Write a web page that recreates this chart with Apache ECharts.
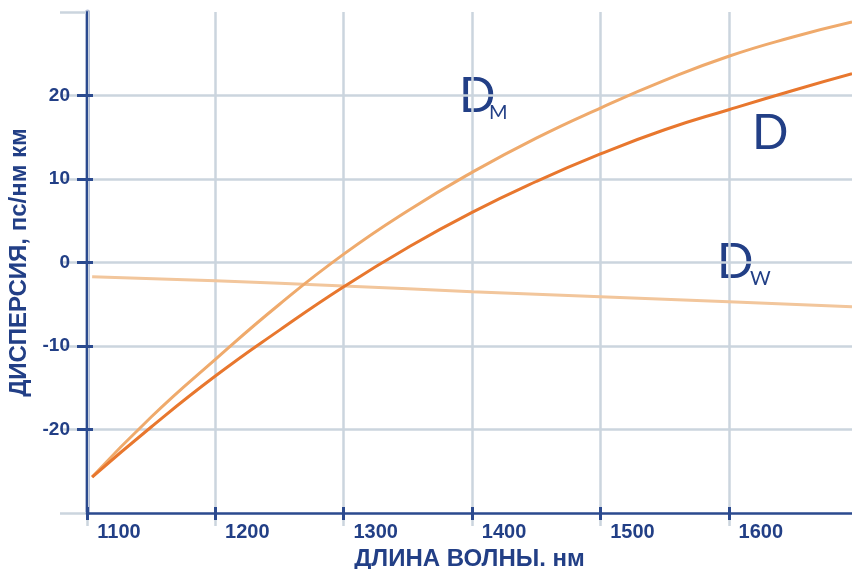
<!DOCTYPE html>
<html><head><meta charset="utf-8">
<script src="https://cdn.jsdelivr.net/npm/echarts@6/dist/echarts.min.js"></script>
<style>html,body{margin:0;padding:0;background:#fff}#c{width:852px;height:569px}</style>
</head><body><div id="c"></div>
<script>
// wavelength, nm
const wavelength = [1104, 1150, 1200, 1250, 1300, 1350, 1400, 1450, 1500, 1550, 1600, 1650, 1696];
// total dispersion D
const dTotal = [-25.7, -19.7, -13.6, -8.1, -2.9, 1.8, 6.0, 9.7, 13.0, 15.9, 18.3, 20.6, 22.6];
// material dispersion DM
const dMaterial = [-25.7, -18.5, -11.6, -5.0, 1.0, 6.2, 10.8, 14.9, 18.5, 21.8, 24.7, 27.0, 28.8];
// waveguide dispersion DW
const dwWavelength = [1104, 1200, 1300, 1400, 1500, 1600, 1696];
const dWaveguide = [-1.7, -2.2, -2.8, -3.5, -4.1, -4.7, -5.3];
const xTicks = [1100, 1200, 1300, 1400, 1500, 1600];
const yTicks = [-20, -10, 0, 10, 20];
const yGrid = [-30, -20, -10, 0, 10, 20, 30];

const NAVY = '#223f86';
const GRID = '#cbd5de';
const pairs = (xs, ys) => xs.map((x, i) => [x, ys[i]]);

const chart = echarts.init(document.getElementById('c'), null, {renderer: 'canvas'});
const xBase = {type: 'value', min: 1100, max: 1696, interval: 100, position: 'bottom', gridIndex: 0};
const yBase = {type: 'value', min: -30, max: 30, interval: 10, position: 'left', gridIndex: 0};
const labelFont = {fontFamily: 'Liberation Sans, Arial, sans-serif', fontWeight: 'bold', color: NAVY};

chart.setOption({
  animation: false,
  backgroundColor: '#ffffff',
  grid: [{left: 87, right: 0, top: 12, bottom: 56, containLabel: false, outerBoundsMode: 'none'}],
  xAxis: [
    Object.assign({}, xBase, {
      z: 1,
      axisLine: {show: true, onZero: false, lineStyle: {color: '#2b4a8f', width: 2.5}},
      axisTick: {show: true, inside: false, length: 7, customValues: xTicks, lineStyle: {color: '#2b4a8f', width: 3}},
      axisLabel: Object.assign({show: true, fontSize: 20, margin: 9, padding: [0, 0, 0, 64], customValues: xTicks,
        formatter: v => String(v)}, labelFont),
      splitLine: {show: true, lineStyle: {color: GRID, width: 2.5}},
      name: 'ДЛИНА ВОЛНЫ. нм', nameLocation: 'middle', nameGap: 32,
      nameTextStyle: Object.assign({fontSize: 24}, labelFont)
    }),
    Object.assign({}, xBase, {
      z: 0,
      axisLine: {show: false, onZero: false},
      axisTick: {show: true, inside: false, length: 13, customValues: xTicks, lineStyle: {color: GRID, width: 2.5}},
      axisLabel: {show: false}, splitLine: {show: false}
    }),
    Object.assign({}, xBase, {
      z: 1,
      axisLine: {show: false, onZero: false},
      axisTick: {show: true, inside: true, length: 6, customValues: xTicks, lineStyle: {color: '#2b4a8f', width: 3}},
      axisLabel: {show: false}, splitLine: {show: false}
    })
  ],
  yAxis: [
    Object.assign({}, yBase, {
      z: 1,
      axisLine: {show: true, onZero: false, lineStyle: {color: '#2b4a8f', width: 2}},
      axisTick: {show: true, inside: false, length: 10, customValues: yTicks, lineStyle: {color: '#2b4a8f', width: 3}},
      axisLabel: Object.assign({show: true, fontSize: 19, margin: 17, padding: [0, 0, 10, 0], customValues: yTicks}, labelFont),
      splitLine: {show: true, lineStyle: {color: GRID, width: 2.5}},
      name: 'ДИСПЕРСИЯ, пс/нм км', nameLocation: 'middle', nameGap: 50,
      nameTextStyle: Object.assign({fontSize: 24}, labelFont)
    }),
    Object.assign({}, yBase, {
      z: 0,
      axisLine: {show: true, onZero: false, lineStyle: {color: '#b3bed6', width: 5}},
      axisTick: {show: true, inside: false, length: 27, customValues: yGrid, lineStyle: {color: GRID, width: 2.5}},
      axisLabel: {show: false}, splitLine: {show: false}
    }),
    Object.assign({}, yBase, {
      z: 1,
      axisLine: {show: false, onZero: false},
      axisTick: {show: true, inside: true, length: 6, customValues: yTicks, lineStyle: {color: '#2b4a8f', width: 3}},
      axisLabel: {show: false}, splitLine: {show: false}
    })
  ],
  series: [
    {name: 'DW', type: 'line', data: pairs(dwWavelength, dWaveguide), smooth: true, showSymbol: false, z: 3,
     lineStyle: {color: '#f2c69c', width: 3}},
    {name: 'DM', type: 'line', data: pairs(wavelength, dMaterial), smooth: true, showSymbol: false, z: 4,
     lineStyle: {color: '#efaa6c', width: 3}},
    {name: 'D', type: 'line', data: pairs(wavelength, dTotal), smooth: true, showSymbol: false, z: 5,
     lineStyle: {color: '#e8772e', width: 3}}
  ],
  graphic: [
    {type: 'text', x: 459, y: 97, style: {text: 'D', font: '48px Lato, sans-serif', fill: NAVY, verticalAlign: 'middle'}},
    {type: 'text', x: 489, y: 113, style: {text: 'M', font: '20px Lato, sans-serif', fill: NAVY, verticalAlign: 'middle'}},
    {type: 'text', x: 752, y: 134, style: {text: 'D', font: '48px Lato, sans-serif', fill: NAVY, verticalAlign: 'middle'}},
    {type: 'text', x: 717, y: 263, style: {text: 'D', font: '48px Lato, sans-serif', fill: NAVY, verticalAlign: 'middle'}},
    {type: 'text', x: 750, y: 279, style: {text: 'W', font: '20px Lato, sans-serif', fill: NAVY, verticalAlign: 'middle'}}
  ]
});
</script></body></html>
